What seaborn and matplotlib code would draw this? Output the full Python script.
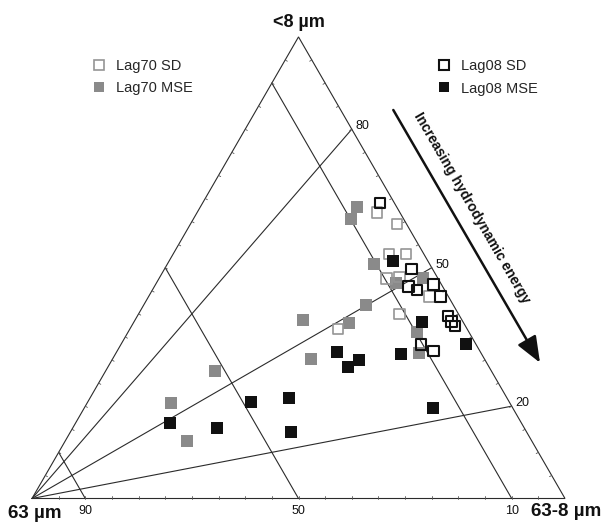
import numpy as np
import pandas as pd
import matplotlib
matplotlib.use("Agg")
import matplotlib.pyplot as plt
import seaborn as sns
from matplotlib.lines import Line2D

# ---------------- data: % <8 µm, % 63-8 µm, % >63 µm ----------------
lag70_sd_fine   = [61.9, 59.5, 53.0, 53.0, 47.7, 48.0, 43.7, 40.0, 36.7]
lag70_sd_silt   = [33.8, 38.7, 40.5, 43.7, 42.7, 45.0, 52.7, 48.9, 39.1]
lag70_sd_sand   = [4.3, 1.8, 6.5, 3.3, 9.6, 7.0, 3.6, 11.1, 24.2]

lag70_mse_fine  = [63.1, 60.6, 50.8, 46.7, 47.8, 41.9, 38.0, 36.1, 31.5, 38.7, 30.2, 27.6, 20.6, 12.5]
lag70_mse_silt  = [29.5, 29.6, 38.8, 45.0, 49.5, 41.7, 40.4, 54.1, 56.9, 31.5, 37.3, 20.5, 15.7, 22.8]
lag70_mse_sand  = [7.4, 9.8, 10.4, 8.3, 2.7, 16.4, 21.6, 9.8, 11.6, 29.8, 32.5, 51.9, 63.7, 64.7]

lag08_sd_fine   = [64.0, 49.7, 45.9, 45.2, 46.3, 43.7, 39.5, 38.3, 37.4, 33.4, 32.0]
lag08_sd_silt   = [33.3, 46.3, 47.7, 49.6, 52.2, 54.8, 58.3, 59.6, 60.7, 56.3, 59.3]
lag08_sd_sand   = [2.7, 4.0, 6.4, 5.2, 1.5, 1.5, 2.2, 2.1, 1.9, 10.3, 8.7]

lag08_mse_fine  = [51.5, 38.2, 33.4, 31.2, 31.8, 30.0, 28.4, 19.5, 21.0, 21.8, 16.4, 15.2, 14.5]
lag08_mse_silt  = [42.0, 54.1, 64.7, 53.7, 41.4, 46.4, 45.1, 65.4, 30.6, 37.3, 17.6, 27.2, 41.4]
lag08_mse_sand  = [6.5, 7.7, 1.9, 15.1, 26.8, 23.6, 26.5, 15.1, 48.4, 40.9, 66.0, 57.6, 44.1]

series_names = ["Lag70 SD", "Lag70 MSE", "Lag08 SD", "Lag08 MSE"]

# guide lines: ratio lines from the 63 µm apex (labels on right side)
ratio_ticks = [80, 50, 20]
# lines of constant 63 µm content (labels on base)
sand_ticks = [90, 50, 10]

apex_labels = ["<8 µm", "63 µm", "63-8 µm"]
arrow_text = "Increasing hydrodynamic energy"

# ---------------- helpers ----------------
H = np.sqrt(3) / 2


def tern(fine, silt, sand):
    f = np.asarray(fine, float)
    m = np.asarray(silt, float)
    c = np.asarray(sand, float)
    tot = f + m + c
    f, m = f / tot, m / tot
    return m + 0.5 * f, H * f


frames = []
for name, (f, m, c) in zip(series_names, [
        (lag70_sd_fine, lag70_sd_silt, lag70_sd_sand),
        (lag70_mse_fine, lag70_mse_silt, lag70_mse_sand),
        (lag08_sd_fine, lag08_sd_silt, lag08_sd_sand),
        (lag08_mse_fine, lag08_mse_silt, lag08_mse_sand)]):
    x, y = tern(f, m, c)
    frames.append(pd.DataFrame({"x": x, "y": y, "series": name}))
df = pd.concat(frames, ignore_index=True)

sns.set_theme(style="white")
plt.rcParams["font.family"] = ["Liberation Sans", "DejaVu Sans"]

PX = 533.0  # pixels per unit of ternary base
fig = plt.figure(figsize=(6.02, 5.22), dpi=100)
fig.patch.set_facecolor("white")
ax = fig.add_axes([0, 0, 1, 1])
ax.set_xlim(-32 / PX, 570 / PX)
ax.set_ylim(-23.5 / PX, 498.5 / PX)
ax.axis("off")

LC = "#2b2b2b"
LW = 0.8

# triangle frame
tx, ty = tern([0, 0, 100, 0], [0, 100, 0, 0], [100, 0, 0, 100])
ax.plot(tx, ty, color=LC, lw=LW, solid_joinstyle="miter", zorder=1)

# ratio lines from the 63 µm corner to the right side
for r in ratio_ticks:
    lx, ly = tern([0, r], [0, 100 - r], [100, 0])
    ax.plot(lx, ly, color=LC, lw=LW, zorder=1)
    ax.annotate(str(r), (lx[1], ly[1]), xytext=(2.5, 0), textcoords="offset points",
                ha="left", va="baseline", fontsize=9, color="#111111")

# constant-sand lines, parallel to right side
for s in sand_ticks:
    lx, ly = tern([0, 100 - s], [100 - s, 0], [s, s])
    ax.plot(lx, ly, color=LC, lw=LW, zorder=1)
    ax.annotate(str(s), (lx[0], ly[0]), xytext=(0, -5), textcoords="offset points",
                ha="center", va="top", fontsize=9, color="#111111")

# small inward ticks every 5 %
tl = 2.5 / PX
TC = "#555555"
for k in range(5, 100, 5):
    # base
    bx, by = tern([0], [k], [100 - k])
    ax.plot([bx[0], bx[0]], [by[0], by[0] + tl], color=TC, lw=0.6, zorder=1)
    # right side
    rx, ry = tern([k], [100 - k], [0])
    ax.plot([rx[0], rx[0] - H * tl], [ry[0], ry[0] - 0.5 * tl], color=TC, lw=0.6, zorder=1)
    # left side
    qx, qy = tern([k], [0], [100 - k])
    ax.plot([qx[0], qx[0] + H * tl], [qy[0], qy[0] - 0.5 * tl], color=TC, lw=0.6, zorder=1)

# points
GRAY = "#8a8a8a"
GRAY_E = "#959595"
BLACK = "#111111"
style = {
    "Lag70 MSE": dict(facecolor=GRAY, edgecolor=GRAY, s=72, linewidth=0, zorder=3),
    "Lag70 SD": dict(facecolor="none", edgecolor=GRAY_E, s=58, linewidth=1.2, zorder=4),
    "Lag08 MSE": dict(facecolor=BLACK, edgecolor=BLACK, s=72, linewidth=0, zorder=5),
    "Lag08 SD": dict(facecolor="none", edgecolor=BLACK, s=58, linewidth=1.5, zorder=6),
}
for name in ["Lag70 MSE", "Lag70 SD", "Lag08 MSE", "Lag08 SD"]:
    sub = df[df["series"] == name]
    sns.scatterplot(data=sub, x="x", y="y", marker="s", ax=ax, legend=False, **style[name])

# apex labels
ax_x, ax_y = tern([100, 0, 0], [0, 0, 100], [0, 100, 0])
ax.annotate(apex_labels[0], (ax_x[0], ax_y[0]), xytext=(0, 7.2), textcoords="offset points",
            ha="center", va="baseline", fontsize=13, fontweight="bold", color="#111111")
ax.annotate(apex_labels[1], (ax_x[1], ax_y[1]), xytext=(2, -4.6), textcoords="offset points",
            ha="center", va="top", fontsize=13.5, fontweight="bold", color="#111111")
ax.annotate(apex_labels[2], (ax_x[2], ax_y[2]), xytext=(1, -3.6), textcoords="offset points",
            ha="center", va="top", fontsize=13.5, fontweight="bold", color="#111111")

# arrow and text
ax.annotate("", xy=((540 - 32) / PX, (498.5 - 362.7) / PX),
            xytext=((393.3 - 32) / PX, (498.5 - 110) / PX),
            arrowprops=dict(arrowstyle="-|>,head_length=0.8,head_width=0.32", color=BLACK,
                            lw=1.8, shrinkA=0, shrinkB=0, mutation_scale=20))
ax.text((472 - 32) / PX, (498.5 - 208) / PX, arrow_text, rotation=-59.9, rotation_mode="anchor",
        ha="center", va="center", fontsize=10, fontweight="bold", color=BLACK)

# legends
h70 = [Line2D([], [], marker="s", ls="none", mfc="none", mec=GRAY_E, mew=1.2, ms=7, label="Lag70 SD"),
       Line2D([], [], marker="s", ls="none", mfc=GRAY, mec=GRAY, mew=0, ms=7.5, label="Lag70 MSE")]
h08 = [Line2D([], [], marker="s", ls="none", mfc="none", mec=BLACK, mew=1.5, ms=7, label="Lag08 SD"),
       Line2D([], [], marker="s", ls="none", mfc=BLACK, mec=BLACK, mew=0, ms=7.5, label="Lag08 MSE")]
common = dict(loc="center left", bbox_transform=fig.transFigure, frameon=False, handlelength=1.0,
              handletextpad=0.65, labelspacing=0.55, borderpad=0, borderaxespad=0,
              prop={"size": 10.5, "family": ["Liberation Sans", "DejaVu Sans"]})
leg1 = ax.legend(handles=h70, bbox_to_anchor=(91.5 / 602, 1 - 76.7 / 522), **common)
ax.add_artist(leg1)
leg2 = ax.legend(handles=h08, bbox_to_anchor=(437 / 602, 1 - 77.5 / 522), **common)

fig.savefig("out.png", dpi=100, facecolor="white")
